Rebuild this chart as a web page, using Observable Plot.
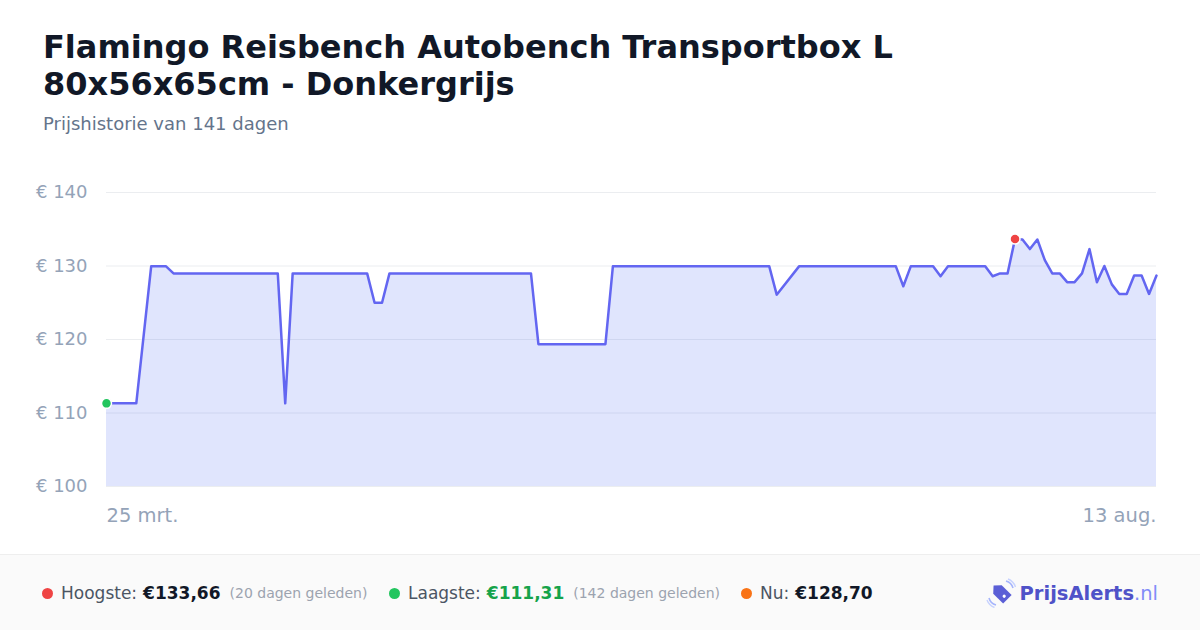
<!DOCTYPE html>
<html>
<head>
<meta charset="utf-8">
<script src="https://cdn.jsdelivr.net/npm/d3@7"></script>
<script src="https://cdn.jsdelivr.net/npm/@observablehq/plot@0.6"></script>
<style>
  html, body { margin: 0; padding: 0; background: #ffffff; }
  body { width: 1200px; height: 630px; position: relative; overflow: hidden; font-family: "DejaVu Sans", sans-serif; }
  #title { position: absolute; left: 43px; top: 29px; margin: 0; font-size: 32px; font-weight: bold; line-height: 37px; color: #111827; }
  #subtitle { position: absolute; left: 43px; top: 113px; margin: 0; font-size: 18px; color: #64748b; }
  #chart { position: absolute; left: 0; top: 150px; }
  #footer { position: absolute; left: 0; top: 554px; width: 1200px; height: 76px; background: #fafafa; border-top: 1px solid #eeeeee; box-sizing: border-box; }
  .stat { position: absolute; top: 0; height: 76px; display: flex; align-items: center; white-space: nowrap; }
  .dot { width: 11px; height: 11px; border-radius: 50%; display: inline-block; margin-right: 8px; }
  .lbl { font-size: 17px; color: #4b5563; }
  .val { font-size: 17px; font-weight: bold; color: #111827; margin-left: 6px; }
  .ago { font-size: 14px; color: #9ca3af; margin-left: 9px; }
  #logo { position: absolute; right: 42px; top: 0; height: 76px; display: flex; align-items: center; }
  #logo .brand { font-size: 19.5px; font-weight: bold; color: #4f52c8; }
  #logo .tld { font-size: 19.5px; color: #818cf8; }
</style>
</head>
<body>
<h1 id="title">Flamingo Reisbench Autobench Transportbox L<br>80x56x65cm - Donkergrijs</h1>
<p id="subtitle">Prijshistorie van 141 dagen</p>
<div id="chart"></div>
<div id="footer">
  <div class="stat" style="left:42px"><span class="dot" style="background:#ef4444"></span><span class="lbl">Hoogste:</span><span class="val">€133,66</span><span class="ago">(20 dagen geleden)</span></div>
  <div class="stat" style="left:389px"><span class="dot" style="background:#22c55e"></span><span class="lbl">Laagste:</span><span class="val" style="color:#16a34a">€111,31</span><span class="ago">(142 dagen geleden)</span></div>
  <div class="stat" style="left:741px"><span class="dot" style="background:#f97316"></span><span class="lbl">Nu:</span><span class="val">€128,70</span></div>
  <div id="logo">
    <svg width="30" height="30" viewBox="0 0 30 30" style="margin-right:4px">
      <path d="M20 3 A10 10 0 0 1 27 10" fill="none" stroke="#a5b4fc" stroke-width="1.6"/>
      <path d="M22 1 A13 13 0 0 1 29.5 9" fill="none" stroke="#c7d2fe" stroke-width="1.4"/>
      <path d="M3 20 A10 10 0 0 0 10 27" fill="none" stroke="#a5b4fc" stroke-width="1.6"/>
      <path d="M1 22 A13 13 0 0 0 8.5 29.5" fill="none" stroke="#c7d2fe" stroke-width="1.4"/>
      <g transform="rotate(-45 15 15)">
        <path d="M9 10 L15 4.5 L21 10 L21 24 L9 24 Z" fill="#5b5fd6"/>
        <circle cx="15" cy="19.5" r="1.6" fill="#ffffff"/>
      </g>
    </svg>
    <span class="brand">PrijsAlerts</span><span class="tld">.nl</span>
  </div>
</div>
<script>
// ---- data ----
const dates = [
  "2025-03-25","2025-03-29","2025-03-31","2025-04-02","2025-04-03","2025-04-17","2025-04-18","2025-04-19",
  "2025-04-29","2025-04-30","2025-05-01","2025-05-02","2025-05-21","2025-05-22","2025-05-31","2025-06-01",
  "2025-06-22","2025-06-23","2025-06-26","2025-07-09","2025-07-10","2025-07-11","2025-07-14","2025-07-15",
  "2025-07-16","2025-07-21","2025-07-22","2025-07-23","2025-07-24","2025-07-25","2025-07-26","2025-07-27",
  "2025-07-28","2025-07-29","2025-07-30","2025-07-31","2025-08-01","2025-08-02","2025-08-03","2025-08-04",
  "2025-08-05","2025-08-06","2025-08-07","2025-08-08","2025-08-09","2025-08-10","2025-08-11","2025-08-12",
  "2025-08-13"
];
const prices = [
  111.31,111.31,129.95,129.95,128.99,128.99,111.31,128.99,
  128.99,125.00,125.00,128.99,128.99,119.36,119.36,129.95,
  129.95,126.10,129.95,129.95,127.25,129.95,129.95,128.60,
  129.95,129.95,128.60,128.99,128.99,133.66,133.60,132.30,
  133.60,130.80,128.99,128.99,127.80,127.80,128.99,132.30,
  127.80,130.00,127.50,126.20,126.20,128.70,128.70,126.20,
  128.70
];
const yTicks = [100, 110, 120, 130, 140];
const xLabels = ["25 mrt.", "13 aug."];
const highIndex = 29;   // €133,66
const lowIndex = 0;     // €111,31

const data = dates.map((d, i) => ({date: new Date(d + "T00:00:00Z"), price: prices[i]}));
const first = data[0], last = data[data.length - 1];

const chart = Plot.plot({
  width: 1200,
  height: 400,
  marginLeft: 106,
  marginRight: 44,
  marginTop: 42,
  marginBottom: 64,
  x: {type: "utc", domain: [first.date, last.date], axis: null},
  y: {domain: [100, 140], axis: null},
  style: {fontFamily: "DejaVu Sans", fontSize: "18px", background: "transparent", overflow: "visible"},
  marks: [
    Plot.gridY(yTicks, {stroke: "#ebedf0", strokeOpacity: 1, strokeWidth: 1}),
    Plot.areaY(data, {x: "date", y1: 100, y2: "price", fill: "#536ff4", fillOpacity: 0.18}),
    Plot.lineY(data, {x: "date", y: "price", stroke: "#6366f1", strokeWidth: 2.5, strokeLinejoin: "round"}),
    Plot.axisY(yTicks, {tickSize: 0, tickPadding: 19, tickFormat: d => `€ ${d}`, fontSize: 18, fill: "#94a3b8", label: null}),
    Plot.text([{date: first.date, label: xLabels[0]}], {x: "date", text: "label", frameAnchor: "bottom", textAnchor: "start", dy: 35, fontSize: 19.5, fill: "#94a3b8"}),
    Plot.text([{date: last.date, label: xLabels[1]}], {x: "date", text: "label", frameAnchor: "bottom", textAnchor: "end", dy: 35, fontSize: 19.5, fill: "#94a3b8"}),
    Plot.dot([data[lowIndex]], {x: "date", y: "price", r: 5, fill: "#22c55e", stroke: "#ffffff", strokeWidth: 1.5}),
    Plot.dot([data[highIndex]], {x: "date", y: "price", r: 5, fill: "#ef4444", stroke: "#ffffff", strokeWidth: 1.5})
  ]
});
document.getElementById("chart").appendChild(chart);
</script>
</body>
</html>
